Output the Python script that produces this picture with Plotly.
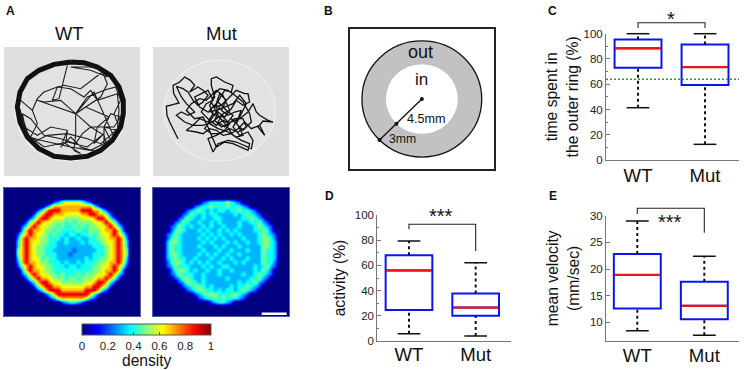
import plotly.graph_objects as go

W, H = 744, 370
FONT = "Liberation Sans"
TXT = "#222222"

GROUPS = ["WT", "Mut"]
# panel C
C_LOW = [41.4, 12.4]; C_Q1 = [73.0, 59.4]; C_MED = [88.4, 73.6]; C_Q3 = [95.5, 91.5]; C_HIGH = [100.0, 100.0]
C_REF = 64.0
# panel D
D_LOW = [5.8, 4.0]; D_Q1 = [24.6, 20.1]; D_MED = [56.0, 26.5]; D_Q3 = [68.0, 37.6]; D_HIGH = [79.4, 62.2]
# panel E
E_LOW = [8.4, 7.6]; E_Q1 = [12.6, 10.6]; E_MED = [18.9, 13.1]; E_Q3 = [22.8, 17.6]; E_HIGH = [29.0, 22.4]

# panel B geometry, mm
R_IN = 4.5
R_RING = 3.0

# panel A: density maps, one digit = density x 10, rows centred on the 34-cell width
WT_ROWS = ["", "", "",
 "2356666532",
 "24777777777742",
 "247999777779997742",
 "25799777666677997752",
 "2479976665555666799742",
 "257976655545455556679752",
 "24797665545445454556679742",
 "37977655454444544555677973",
 "2579766545443443445456679752",
 "3797765544434334334455677973",
 "4797665544334333434445667974",
 "4797655444333333333444567974",
 "5797655443333323333344567975",
 "5797655444333233333444567975",
 "4797664544333333343445567974",
 "3797765544434334344455677973",
 "2579766554443443444556679752",
 "37977655444444444455677973",
 "24797665545444545556679742",
 "257977655545545556779752",
 "2479976655555566799742",
 "25799776666667799752",
 "247999777777999742",
 "24799999999742",
 "236777777632",
 "234432", "", "", ""]
MUT_ROWS = ["", "", "",
 "2344445432",
 "23445444544432",
 "234543434434454432",
 "23543434433334345432",
 "2354334334433333445432",
 "235433433434333343344532",
 "23543433434334333433345432",
 "24543334343343434333344542",
 "2354333334343433434333345432",
 "2454333343434343333433345542",
 "3554333334343334343343345543",
 "3544333343334343334333335543",
 "3544333334333433433343335443",
 "3554333343434334334333335443",
 "3454433433343343433343335443",
 "2455434343433433343433335442",
 "2354443334343344333333434532",
 "24554343343343343333343542",
 "23544433433343333343345432",
 "235543343333343333344532",
 "2355434333333334344532",
 "23455434333343445432",
 "234554434344345432",
 "23455544455432",
 "234454544432",
 "234432", "", "", ""]

# panel A: tracks, read in the reference crop (408 x 387 units)
WT_RING_X = [200, 240, 280, 320, 345, 358, 358, 350, 325, 290, 250, 200, 150, 105, 70, 48, 40, 48, 70, 105, 150, 200]
WT_RING_Y = [45, 47, 60, 85, 120, 160, 200, 240, 280, 310, 328, 333, 328, 305, 270, 225, 180, 135, 95, 70, 52, 45]
WT_PATH_X = [190, 175, 165, 145, 160, 200, 240, 260, 280, 340, 345, 340, 300, 320, 350, 330, 260, 215, 245, 290, 310, 295, 270,
             200, 260, 310, 295, 230, 180, 160, 120, 100, 85, 50, 85, 100, 80, 120, 190, 250, 300, 270, 280, 315, 245, 215, 170, 120, 100,
             215, 215, 210, 230, 185, 190, 140, 100, 60, 45, 75, 110, 200, 260, 320, 300, 300, 330, 270, 215,
             250, 300, 335, 350, 330, 345, 320, 290, 250, 190, 130, 90, 65, 55, 80, 120, 170, 215, 235, 260, 300, 310, 280, 230, 200, 170, 190]
WT_PATH_Y = [55, 118, 155, 160, 120, 125, 150, 130, 160, 140, 190, 250, 240, 200, 210, 240, 240, 200, 180, 150, 110, 75, 60,
             60, 70, 90, 75, 125, 115, 120, 135, 155, 190, 160, 190, 230, 270, 300, 285, 300, 260, 290, 240, 210, 180, 200, 160, 165, 160,
             200, 260, 310, 320, 290, 250, 240, 265, 240, 180, 270, 280, 300, 310, 280, 240, 290, 270, 135, 200,
             150, 130, 120, 160, 200, 240, 265, 290, 275, 260, 265, 285, 250, 200, 215, 265, 275, 290, 260, 240, 265, 300, 315, 300, 270, 300, 250]
MUT_PATH_X = [75, 62, 50, 42, 40, 62, 78, 62, 60, 80, 95, 112, 125, 110, 135, 150, 165, 150, 135, 120, 105, 90, 70, 85, 100, 125, 105, 85, 70, 95, 120, 140, 165, 180,
              170, 185, 175, 175, 190, 215, 240, 235, 215, 200, 185, 205, 225, 250, 275, 285, 290, 270, 250, 235, 215, 195, 185, 205, 235, 260, 285, 300, 310, 320, 345, 360,
              330, 315, 335, 320, 295, 275, 255, 235, 210, 190, 170, 150, 130, 100, 120, 150, 180, 195, 190, 200, 220, 205, 225, 245, 265, 255, 240, 260, 285, 300, 295,
              270, 250, 225, 195, 180, 170, 165, 190, 215, 230, 210, 190, 165, 145, 160, 180, 165, 145, 125, 140, 165, 190, 215, 240, 260, 280, 265, 250, 270, 295, 290, 270,
              245, 225, 200, 185, 175, 195, 220, 240, 265, 290, 285, 265, 240, 215, 190, 165,
              150, 125, 100, 115, 140, 160, 190, 210, 230, 210, 195, 215, 245, 270, 280, 255, 230, 200, 175, 155, 180, 200, 185, 170, 195, 220, 240, 225, 205, 190, 170, 195, 225, 250, 270, 255, 235]
MUT_PATH_Y = [275, 250, 225, 205, 178, 172, 168, 140, 115, 105, 90, 100, 115, 135, 120, 130, 145, 165, 175, 160, 135, 125, 118, 150, 170, 195, 205, 195, 205, 225, 235, 215, 225, 200,
              175, 150, 115, 95, 90, 105, 115, 135, 130, 155, 180, 175, 155, 130, 140, 140, 165, 175, 160, 185, 210, 195, 220, 240, 225, 215, 195, 170, 195, 205, 220, 225,
              222, 240, 265, 235, 245, 225, 245, 260, 265, 250, 245, 260, 255, 250, 235, 235, 225, 210, 170, 140, 160, 190, 205, 195, 190, 215, 240, 265, 255, 280, 305,
              295, 285, 280, 290, 315, 290, 275, 265, 250, 230, 220, 235, 215, 195, 170, 160, 130, 140, 150, 180, 195, 190, 180, 170, 145, 170, 200, 230, 250, 225, 200, 165,
              145, 130, 125, 140, 165, 205, 235, 265, 280, 290, 310, 300, 290, 285, 300, 240,
              210, 215, 190, 170, 155, 160, 130, 145, 190, 200, 225, 240, 215, 215, 240, 255, 245, 260, 260, 245, 210, 180, 205, 190, 165, 190, 205, 225, 205, 215, 230, 245, 255, 270, 265, 235, 215]

BLUE, RED = "#0a14f0", "#f01414"
AXC = "#777777"


def dx(a, b):
    return [a / W, b / W]


def dy(top, bottom):
    return [1 - bottom / H, 1 - top / H]


def expand(rows):
    out = []
    for r in rows:
        s = (34 - len(r)) // 2
        d = [0] * s + [int(c) / 10 for c in r]
        out.append((d + [0] * 34)[:34])
    return out


fig = go.Figure()

# ---------- A: tracks
for xa, ya in (("x", "y"), ("x2", "y2")):
    fig.add_shape(type="rect", xref=xa, yref=ya, x0=0, x1=408, y0=0, y1=387, layer="below",
                  fillcolor="#dfdfdf", line_width=0)
    fig.add_shape(type="circle", xref=xa, yref=ya, x0=33, x1=367, y0=40, y1=342, layer="below",
                  fillcolor="#e2e2e2", line=dict(color="#eeeeee", width=1.2))
fig.add_trace(go.Scatter(x=WT_RING_X, y=WT_RING_Y, mode="lines", line=dict(color="#111111", width=5), xaxis="x", yaxis="y", hoverinfo="skip"))
fig.add_trace(go.Scatter(x=WT_PATH_X, y=WT_PATH_Y, mode="lines", line=dict(color="#1c1c1c", width=1.1), xaxis="x", yaxis="y", hoverinfo="skip"))
fig.add_trace(go.Scatter(x=MUT_PATH_X, y=MUT_PATH_Y, mode="lines", line=dict(color="#111111", width=1.3), xaxis="x2", yaxis="y2", hoverinfo="skip"))

# ---------- A: density maps
JET = [[0, "#000080"], [0.125, "#0000ff"], [0.375, "#00ffff"], [0.625, "#ffff00"], [0.875, "#ff0000"], [1, "#800000"]]
fig.add_trace(go.Heatmap(z=expand(WT_ROWS), x0=0.5, dx=1, y0=0.5, dy=1, zmin=0, zmax=1, zsmooth="best", colorscale=JET,
                         xaxis="x3", yaxis="y3", hoverinfo="skip",
                         colorbar=dict(orientation="h", x=146.5 / W, xanchor="center", y=1 - 324 / H, yanchor="top",
                                       lenmode="pixels", len=129, thicknessmode="pixels", thickness=11, xpad=0, ypad=0,
                                       outlinecolor="#555555", outlinewidth=1,
                                       tickvals=[0, 0.2, 0.4, 0.6, 0.8, 1], ticktext=["0", "0.2", "0.4", "0.6", "0.8", "1"],
                                       ticks="inside", ticklen=3, tickcolor="#555555",
                                       tickfont=dict(size=11.5, color=TXT, family=FONT))))
fig.add_trace(go.Heatmap(z=expand(MUT_ROWS), x0=0.5, dx=1, y0=0.5, dy=1, zmin=0, zmax=1, zsmooth="best", colorscale=JET,
                         showscale=False, xaxis="x4", yaxis="y4", hoverinfo="skip"))
fig.add_shape(type="rect", xref="paper", yref="paper", x0=261.7 / W, x1=286.7 / W, y0=1 - 315 / H, y1=1 - 312.5 / H,
              fillcolor="white", line_width=0)

# ---------- B: arena
R_OUT = R_IN + R_RING
fig.add_shape(type="circle", xref="x5", yref="y5", x0=-R_OUT, x1=R_OUT, y0=-R_OUT, y1=R_OUT, layer="below",
              fillcolor="#c2c2c2", line=dict(color="#111111", width=1.3))
fig.add_shape(type="circle", xref="x5", yref="y5", x0=-R_IN, x1=R_IN, y0=-R_IN, y1=R_IN, layer="below",
              fillcolor="white", line_width=0)
K = 0.7071
fig.add_trace(go.Scatter(x=[0, -R_IN * K, -R_OUT * K], y=[0, -R_IN * K, -R_OUT * K], mode="lines+markers",
                         line=dict(color="#111111", width=1.3), marker=dict(color="#111111", size=4),
                         xaxis="x5", yaxis="y5", hoverinfo="skip"))


# ---------- C, D, E: box plots
def box_panel(xa, ya, ya_over, low, q1, med, q3, high):
    xs = list(range(len(GROUPS)))
    fig.add_trace(go.Box(x=xs, q1=q1, median=med, q3=q3, lowerfence=q1, upperfence=q3, width=0.7, whiskerwidth=0,
                         line=dict(color=BLUE, width=2), fillcolor="rgba(0,0,0,0)", boxpoints=False,
                         xaxis=xa, yaxis=ya, hoverinfo="skip"))
    for i in xs:
        for a, b in ((low[i], q1[i]), (q3[i], high[i])):
            fig.add_trace(go.Scatter(x=[i, i], y=[a, b], mode="lines",
                                     line=dict(color="#111111", width=2, dash="3px,3px"), xaxis=xa, yaxis=ya_over, hoverinfo="skip"))
        for v in (low[i], high[i]):
            fig.add_trace(go.Scatter(x=[i - 0.17, i + 0.17], y=[v, v], mode="lines",
                                     line=dict(color="#111111", width=1.5), xaxis=xa, yaxis=ya_over, hoverinfo="skip"))
        fig.add_trace(go.Scatter(x=[i - 0.34, i + 0.34], y=[med[i], med[i]], mode="lines",
                                 line=dict(color=RED, width=2.2), xaxis=xa, yaxis=ya_over, hoverinfo="skip"))


def bracket(xa, ya, left, top, right):
    fig.add_trace(go.Scatter(x=[0, 0, 1, 1], y=[left, top, top, right], mode="lines",
                             line=dict(color="#222222", width=1.1), xaxis=xa, yaxis=ya, hoverinfo="skip"))


box_panel("x6", "y6", "y9", C_LOW, C_Q1, C_MED, C_Q3, C_HIGH)
fig.add_trace(go.Scatter(x=[-0.478, 1.507], y=[C_REF, C_REF], mode="lines",
                         line=dict(color="#2e9a2e", width=1.5, dash="2px,2px"), xaxis="x6", yaxis="y9", hoverinfo="skip"))
bracket("x6", "y9", 104.5, 108.7, 104.5)
box_panel("x7", "y7", "y10", D_LOW, D_Q1, D_MED, D_Q3, D_HIGH)
bracket("x7", "y10", 88.6, 92.6, 71.4)
box_panel("x8", "y8", "y11", E_LOW, E_Q1, E_MED, E_Q3, E_HIGH)
bracket("x8", "y11", 30.3, 31.4, 26.8)

hidden = dict(visible=False)
layout = dict(
    width=W, height=H, margin=dict(l=0, r=0, t=0, b=0, autoexpand=False),
    paper_bgcolor="white", plot_bgcolor="rgba(0,0,0,0)", showlegend=False, boxmode="overlay",
    font=dict(family=FONT, color=TXT),
    xaxis=dict(domain=dx(4, 140), range=[0, 408], **hidden),
    yaxis=dict(domain=dy(47, 176), range=[387, 0], **hidden),
    xaxis2=dict(domain=dx(153, 289), range=[0, 408], anchor="y2", **hidden),
    yaxis2=dict(domain=dy(47, 176), range=[387, 0], anchor="x2", **hidden),
)
frame = dict(showline=True, mirror=True, linecolor="#5a5aa8", linewidth=1, showticklabels=False, ticks="", showgrid=False, zeroline=False)
layout["xaxis3"] = dict(domain=dx(4, 140), range=[0, 34], anchor="y3", **frame)
layout["yaxis3"] = dict(domain=dy(188, 316), range=[32, 0], anchor="x3", **frame)
layout["xaxis4"] = dict(domain=dx(153, 289), range=[0, 34], anchor="y4", **frame)
layout["yaxis4"] = dict(domain=dy(188, 316), range=[32, 0], anchor="x4", **frame)
box_frame = dict(showline=True, mirror=True, linecolor="#222222", linewidth=1.5, showticklabels=False, ticks="", showgrid=False, zeroline=False)
layout["xaxis5"] = dict(domain=dx(350, 493.7), range=[-9, 9], anchor="y5", **box_frame)
layout["yaxis5"] = dict(domain=dy(29.3, 168.7), range=[-9, 9], anchor="x5", **box_frame)


def xbox(d, rng, anchor, lift):
    return dict(domain=d, range=rng, anchor=anchor, tickvals=[0, 1], ticktext=GROUPS, ticks="", showgrid=False, zeroline=False,
                showline=True, linecolor=AXC, linewidth=1, ticklabelstandoff=lift,
                tickfont=dict(size=18.6, color="#111111", family=FONT))


def ybox(top, bottom, rng, vals, title, standoff, anchor, minor=None):
    out = dict(domain=dy(top, bottom), range=rng, anchor=anchor, tickvals=vals, ticks="inside", ticklen=4, tickcolor=AXC,
               showgrid=False, zeroline=False, showline=True, linecolor=AXC, linewidth=1,
               tickfont=dict(size=11.5, color=TXT, family=FONT),
               title=dict(text=title, standoff=standoff, font=dict(size=15.7, color="#111111", family=FONT)))
    if minor:
        out["minor"] = dict(tickvals=minor, ticks="inside", ticklen=2, tickcolor=AXC, showgrid=False)
    return out


def over(top, bottom, rng, newtop, anchor):
    """Hidden axis on the same scale, taller, so marks above the range are not clipped."""
    span = (rng[1] - rng[0]) / (bottom - top)
    return dict(domain=dy(newtop, bottom), range=[rng[0], rng[0] + span * (bottom - newtop)], anchor=anchor, visible=False)


TENS = [10, 30, 50, 70, 90]
layout["xaxis6"] = xbox(dx(606, 739), [-0.478, 1.507], "y6", -1)
layout["yaxis6"] = ybox(33.7, 160, [0, 100], [0, 20, 40, 60, 80, 100], "time spent in<br>the outer ring (%)", 1, "x6", TENS)
layout["yaxis9"] = over(33.7, 160, [0, 100], 5, "x6")
layout["xaxis7"] = xbox(dx(377.3, 510.7), [-0.475, 1.525], "y7", -3)
layout["yaxis7"] = ybox(215, 341, [0, 100], [0, 20, 40, 60, 80, 100], "activity (%)", 5, "x7", TENS)
layout["yaxis10"] = over(215, 341, [0, 100], 190, "x7")
layout["xaxis8"] = xbox(dx(606, 739.3), [-0.467, 1.522], "y8", -2)
layout["yaxis8"] = ybox(215.7, 341, [6.5, 30], [10, 15, 20, 25, 30], "mean velocity<br>(mm/sec)", 6, "x8")
layout["yaxis11"] = over(215.7, 341, [6.5, 30], 190, "x8")


def note(text, px, py, size, color="#111111", bold=False):
    return dict(text=f"<b>{text}</b>" if bold else text, x=px / W, y=1 - py / H, xref="paper", yref="paper",
                xanchor="center", yanchor="middle", showarrow=False, font=dict(size=size, color=color, family=FONT))


layout["annotations"] = [
    note("A", 10.5, 11, 12, bold=True), note("B", 328.5, 10.5, 12, bold=True), note("C", 552.7, 10.5, 12, bold=True),
    note("D", 329.5, 195.5, 12, bold=True), note("E", 552.7, 195.5, 12, bold=True),
    note("WT", 69, 34, 18.3), note("Mut", 221.7, 34, 18.6),
    note("out", 420, 52, 18), note("in", 421, 79.5, 17),
    note("4.5mm", 426.7, 118.7, 12.6), note("3mm", 402, 138.7, 12.2),
    note("*", 671, 19, 20), note("***", 440.7, 216, 20), note("***", 670, 222, 20),
    note("density", 146.5, 360, 15.6),
]
fig.update_layout(**layout)
fig.write_html("out.html", config={"displayModeBar": False}, post_script="document.body.style.margin='0';")
